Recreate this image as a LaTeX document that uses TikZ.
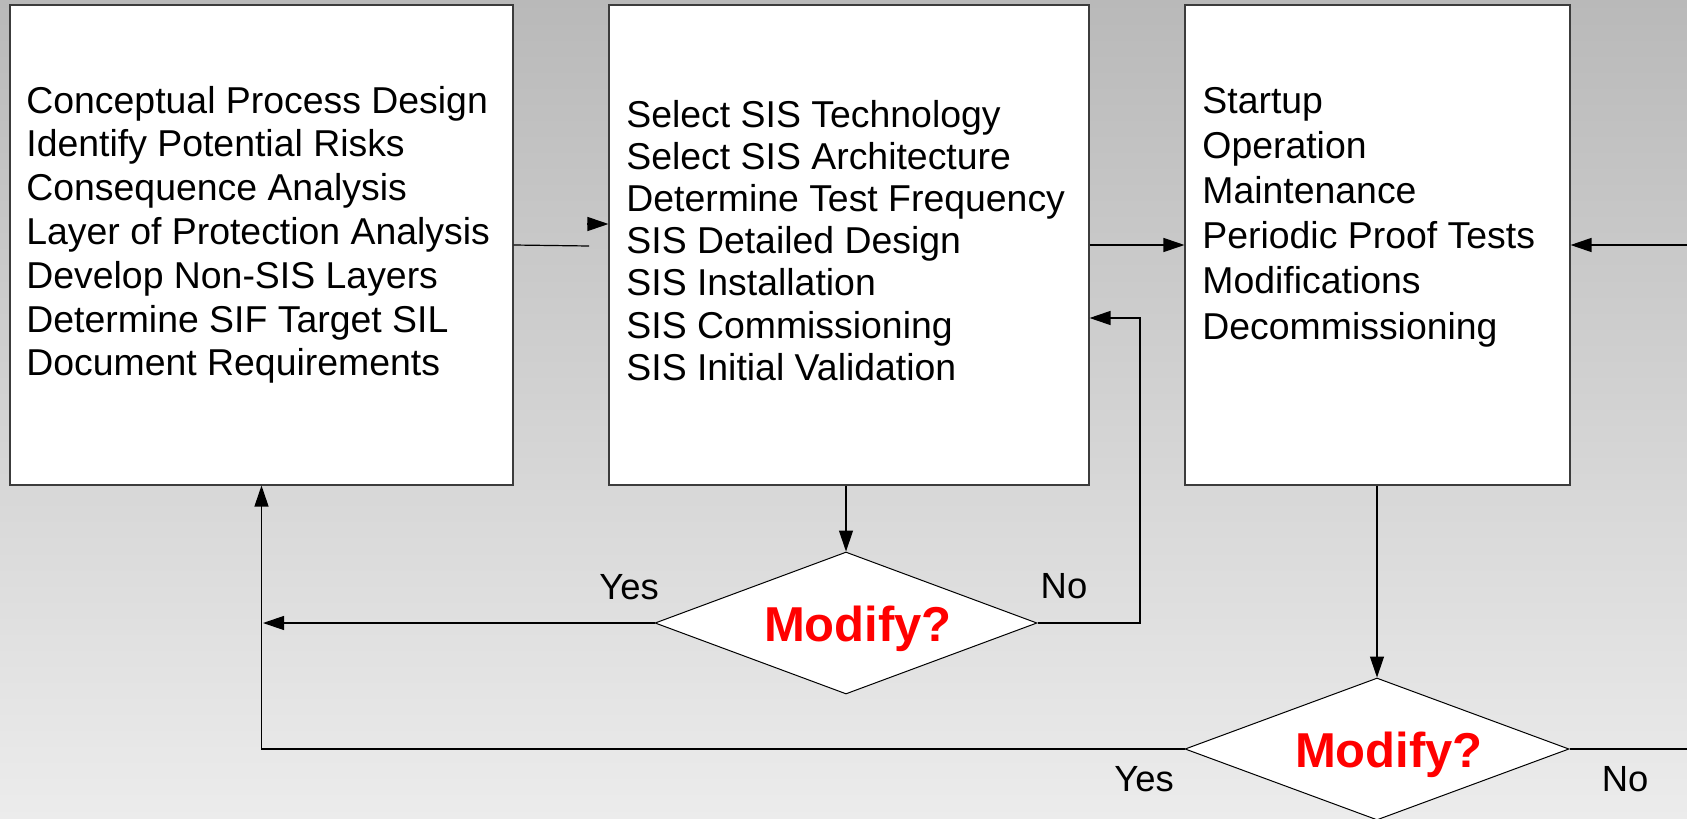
\documentclass[tikz,border=0pt]{standalone}
\usepackage{fontspec}
\setmainfont{Liberation Sans}
\usetikzlibrary{arrows.meta,shapes.geometric}
\definecolor{bgtop}{RGB}{185,185,185}
\definecolor{bgbot}{RGB}{236,236,236}
\definecolor{boxline}{RGB}{60,60,60}
\tikzset{
  box/.style={draw=boxline,fill=white,line width=0.55pt,inner sep=0,rectangle},
  txt/.style={anchor=base west,inner sep=0,font=\fontsize{18.7}{22}\selectfont},
  lbl/.style={anchor=base,inner sep=0,font=\fontsize{18.2}{22}\selectfont},
  dec/.style={draw=black,fill=white,line width=0.5pt,shape=diamond,shape aspect=2.7,inner sep=0},
  mod/.style={anchor=base,inner sep=0,text=red,font=\bfseries\fontsize{24.5}{28}\selectfont},
  conn/.style={draw=black,line width=0.6pt},
  arr/.style={conn,-{Triangle[length=10.5pt,width=7pt]}}
}
\begin{document}
\begin{tikzpicture}[x=0.5pt,y=-0.5pt]
\shade[top color=bgtop,bottom color=bgbot] (0,0) rectangle (1687,819);
\useasboundingbox (0,0) rectangle (1687,819);
% boxes
\node[box,minimum width=251.5pt,minimum height=240pt] (b1) at (261.5,245) {};
\node[box,minimum width=240pt,minimum height=240pt] (b2) at (849,245) {};
\node[box,minimum width=192.5pt,minimum height=240pt] (b3) at (1377.5,245) {};
% texts
\foreach \t [count=\i from 0] in {Conceptual Process Design,Identify Potential Risks,Consequence Analysis,Layer of Protection Analysis,Develop Non-SIS Layers,Determine SIF Target SIL,Document Requirements}
  \node[txt] (a\i) at (26,{113+43.8*\i}) {\t};
\foreach \t [count=\i from 0] in {Select SIS Technology,Select SIS Architecture,Determine Test Frequency,SIS Detailed Design,SIS Installation,SIS Commissioning,SIS Initial Validation}
  \node[txt] (s\i) at (626,{127+42.2*\i}) {\t};
\foreach \t [count=\i from 0] in {Startup,Operation,Maintenance,Periodic Proof Tests,Modifications,Decommissioning}
  \node[txt] (o\i) at (1202,{113+45.2*\i}) {\t};
% diamonds
\node[dec,minimum width=191pt,minimum height=71pt] (d1) at (846,623) {};
\node[mod] (m1) at (858,641) {Modify?};
\node[dec,minimum width=192pt,minimum height=71pt] (d2) at (1377,749) {};
\node[mod] (m2) at (1389,767) {Modify?};
% labels
\node[lbl] (y1) at (629,599) {Yes};
\node[lbl] (n1) at (1064,598) {No};
\node[lbl] (y2) at (1144,791) {Yes};
\node[lbl] (n2) at (1625,791) {No};
% helper coordinates
\coordinate (c1) at (589,246);
\coordinate (c2) at (587,224);
\coordinate (r1) at (1687,245);
\coordinate (r2) at (1687,749);
\coordinate (v1) at (1140,623);
\coordinate (v2) at (1140,318);
\coordinate (l1) at (261.5,749);
\coordinate (l2) at (263,623);
% connectors
\draw[conn] (b1.east) -- (c1);
\draw[arr] (c2) -- (c2 -| b2.west);
\draw[arr] (b2.east) -- (b3.west);
\draw[arr] (r1) -- (b3.east);
\draw[arr] (d1.north |- b2.south) -- (d1.north);
\draw[arr] (d2.north |- b3.south) -- (d2.north);
\draw[arr] (d1.west) -- (l2);
\draw[arr] (d2.west) -- (l1) -- (b1.south);
\draw[arr] (d1.east) -- (v1) -- (v2) -- (v2 -| b2.east);
\draw[conn] (d2.east) -- (r2);
\end{tikzpicture}
\end{document}
